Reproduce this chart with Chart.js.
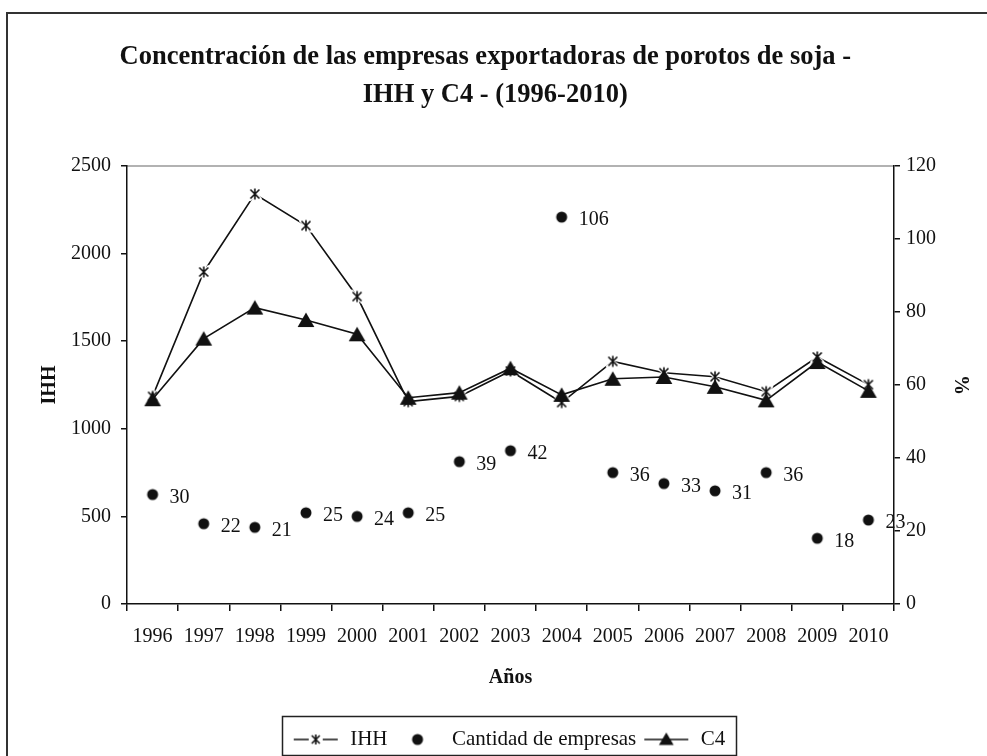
<!DOCTYPE html>
<html>
<head>
<meta charset="utf-8">
<script src="https://cdn.jsdelivr.net/npm/chart.js@4/dist/chart.umd.min.js"></script>
<style>
html,body{margin:0;padding:0;background:#fff;}
#wrap{position:relative;width:987px;height:756px;}
</style>
</head>
<body>
<div id="wrap"><canvas id="c"></canvas></div>
<script>
const years = ['1996','1997','1998','1999','2000','2001','2002','2003','2004','2005','2006','2007','2008','2009','2010'];
const ihh = [1185, 1895, 2340, 2160, 1755, 1155, 1185, 1330, 1150, 1385, 1320, 1297, 1212, 1410, 1252];
const cantidad = [30, 22, 21, 25, 24, 25, 39, 42, 106, 36, 33, 31, 36, 18, 23];
const c4 = [56.1, 72.7, 81.2, 77.8, 73.9, 56.5, 57.9, 64.6, 57.3, 61.7, 62.2, 59.5, 55.8, 66.3, 58.4];
const leftTicks = [0, 500, 1000, 1500, 2000, 2500];
const rightTicks = [0, 20, 40, 60, 80, 100, 120];

const FONT = "'Liberation Serif', 'Times New Roman', serif";
const INK = '#111';
const NB = '\u00a0';

function makeCanvas(w, h, draw) {
  const cv = document.createElement('canvas');
  cv.width = w; cv.height = h;
  const g = cv.getContext('2d');
  draw(g, w, h);
  return cv;
}
function starPath(g, cx, cy, r) {
  g.beginPath();
  g.moveTo(cx - r, cy - r); g.lineTo(cx + r, cy + r);
  g.moveTo(cx + r, cy - r); g.lineTo(cx - r, cy + r);
  g.moveTo(cx, cy - r - 1); g.lineTo(cx, cy + r + 1);
}
function drawStar(g, cx, cy, r, halo) {
  if (halo) {
    g.strokeStyle = '#fff'; g.lineWidth = 4; g.lineCap = 'round';
    starPath(g, cx, cy, r + 0.5); g.stroke();
    g.lineCap = 'butt';
  }
  g.strokeStyle = INK; g.lineWidth = 1.6;
  starPath(g, cx, cy, r); g.stroke();
}
function drawTri(g, cx, cy, r) {
  g.fillStyle = INK;
  g.beginPath();
  g.moveTo(cx, cy - r);
  g.lineTo(cx + r * 1.05, cy + r * 0.8);
  g.lineTo(cx - r * 1.05, cy + r * 0.8);
  g.closePath(); g.fill();
}
const starPt = makeCanvas(18, 18, (g) => drawStar(g, 9, 9, 4.5, true));
const triPt = makeCanvas(20, 20, (g) => drawTri(g, 10, 10.5, 8));
const dotPt = makeCanvas(14, 14, (g) => { g.fillStyle = INK; g.beginPath(); g.arc(7, 7, 5.5, 0, Math.PI * 2); g.fill(); });

const LW = 48;
const legStar = makeCanvas(LW, 16, (g) => {
  g.strokeStyle = INK; g.lineWidth = 1.6;
  g.beginPath(); g.moveTo(2, 8); g.lineTo(17, 8); g.moveTo(31, 8); g.lineTo(46, 8); g.stroke();
  drawStar(g, 24, 8, 4, false);
});
const legDot = makeCanvas(LW, 16, (g) => { g.fillStyle = INK; g.beginPath(); g.arc(24, 8, 5.5, 0, Math.PI * 2); g.fill(); });
const legTri = makeCanvas(LW, 16, (g) => {
  g.strokeStyle = INK; g.lineWidth = 1.6;
  g.beginPath(); g.moveTo(2, 8); g.lineTo(46, 8); g.stroke();
  drawTri(g, 24, 8, 7);
});
const legendImgs = [legStar, legDot, legTri];

const framePlugin = {
  id: 'frame',
  beforeDraw(chart) {
    const ctx = chart.ctx;
    ctx.save();
    ctx.strokeStyle = '#333'; ctx.lineWidth = 2;
    ctx.beginPath();
    ctx.moveTo(7, chart.height + 5); ctx.lineTo(7, 13); ctx.lineTo(chart.width + 5, 13);
    ctx.stroke();
    const a = chart.chartArea;
    ctx.strokeStyle = '#999'; ctx.lineWidth = 1.5;
    ctx.beginPath(); ctx.moveTo(a.left, a.top); ctx.lineTo(a.right, a.top); ctx.stroke();
    ctx.restore();
  },
  afterDraw(chart) {
    const lg = chart.legend;
    if (!lg || !lg.legendHitBoxes || !lg.legendHitBoxes.length) return;
    const hb = lg.legendHitBoxes;
    let minX = Infinity, maxX = -Infinity, minY = Infinity, maxY = -Infinity;
    hb.forEach(b => { minX = Math.min(minX, b.left); maxX = Math.max(maxX, b.left + b.width); minY = Math.min(minY, b.top); maxY = Math.max(maxY, b.top + b.height); });
    const ctx = chart.ctx;
    ctx.save();
    ctx.strokeStyle = '#222'; ctx.lineWidth = 1.5;
    ctx.strokeRect(Math.round(minX - 10) + 0.5, Math.round(minY - 13) + 0.5, Math.round(maxX - minX + 20), Math.round(maxY - minY + 18));
    ctx.restore();
  }
};

const labelPlugin = {
  id: 'dotLabels',
  afterDatasetsDraw(chart) {
    const meta = chart.getDatasetMeta(1);
    const ctx = chart.ctx;
    ctx.save();
    ctx.font = '20px ' + FONT;
    ctx.fillStyle = INK;
    ctx.textBaseline = 'middle';
    ctx.textAlign = 'left';
    meta.data.forEach((el, i) => {
      ctx.fillText(String(cantidad[i]), el.x + 17, el.y + 3);
    });
    ctx.restore();
  }
};

new Chart(document.getElementById('c'), {
  type: 'line',
  data: {
    labels: years,
    datasets: [
      { label: 'IHH', data: ihh, yAxisID: 'y', order: 2, borderColor: INK, borderWidth: 1.6, pointStyle: starPt, pointRadius: 5, tension: 0, fill: false },
      { label: 'Cantidad de empresas', data: cantidad, yAxisID: 'y1', order: 1, showLine: false, borderColor: INK, backgroundColor: INK, pointStyle: dotPt, pointRadius: 5 },
      { label: 'C4', data: c4, yAxisID: 'y1', order: 0, borderColor: INK, borderWidth: 1.6, pointStyle: triPt, pointRadius: 8, tension: 0, fill: false }
    ]
  },
  options: {
    responsive: true,
    maintainAspectRatio: false,
    animation: false,
    events: [],
    layout: { padding: { top: 0, left: 40, right: 10, bottom: -4 } },
    plugins: {
      title: {
        display: true,
        text: ['Concentración de las empresas exportadoras de porotos de soja -' + NB.repeat(7), 'IHH y C4 - (1996-2010)' + NB.repeat(4)],
        font: { family: FONT, size: 26.5, weight: 'bold', lineHeight: 1.434 },
        color: INK,
        padding: { top: 38, bottom: 52 }
      },
      legend: {
        position: 'bottom',
        labels: {
          font: { family: FONT, size: 21 },
          color: INK,
          usePointStyle: true,
          pointStyleWidth: LW,
          padding: 6,
          generateLabels(chart) {
            return chart.data.datasets.map((ds, i) => ({
              text: ds.label, pointStyle: legendImgs[i], datasetIndex: i,
              fillStyle: INK, strokeStyle: INK, lineWidth: 0, fontColor: INK, hidden: false
            }));
          }
        }
      },
      tooltip: { enabled: false }
    },
    scales: {
      x: {
        type: 'category',
        offset: true,
        grid: { display: true, offset: true, drawOnChartArea: false, drawTicks: true, tickLength: 7, color: INK, lineWidth: 1.5 },
        border: { display: true, color: INK, width: 1.5 },
        ticks: { font: { family: FONT, size: 20 }, color: INK, padding: 14, maxRotation: 0, autoSkip: false },
        title: { display: true, text: 'Años', font: { family: FONT, size: 20, weight: 'bold' }, color: INK, padding: { top: 3, bottom: 33 } }
      },
      y: {
        position: 'left',
        min: 0, max: 2500,
        afterBuildTicks(s) { s.ticks = leftTicks.map(v => ({ value: v })); },
        afterFit(s) { s.width = 87; },
        grid: { display: true, drawOnChartArea: false, drawTicks: true, tickLength: 6, color: INK, lineWidth: 1.5 },
        border: { display: true, color: INK, width: 1.5 },
        ticks: { font: { family: FONT, size: 20 }, color: INK, padding: 10, callback: (v) => String(v) },
        title: { display: true, text: 'IHH', font: { family: FONT, size: 20, weight: 'bold' }, color: INK, padding: -2 }
      },
      y1: {
        position: 'right',
        min: 0, max: 120,
        afterBuildTicks(s) { s.ticks = rightTicks.map(v => ({ value: v })); },
        afterFit(s) { s.width = 83; },
        grid: { display: true, drawOnChartArea: false, drawTicks: true, tickLength: 6, color: INK, lineWidth: 1.5 },
        border: { display: true, color: INK, width: 1.5 },
        ticks: { font: { family: FONT, size: 20 }, color: INK, padding: 6, callback: (v) => String(v) },
        title: { display: true, text: '%', font: { family: FONT, size: 20, weight: 'bold' }, color: INK, padding: 5 }
      }
    }
  },
  plugins: [framePlugin, labelPlugin]
});
</script>
</body>
</html>
